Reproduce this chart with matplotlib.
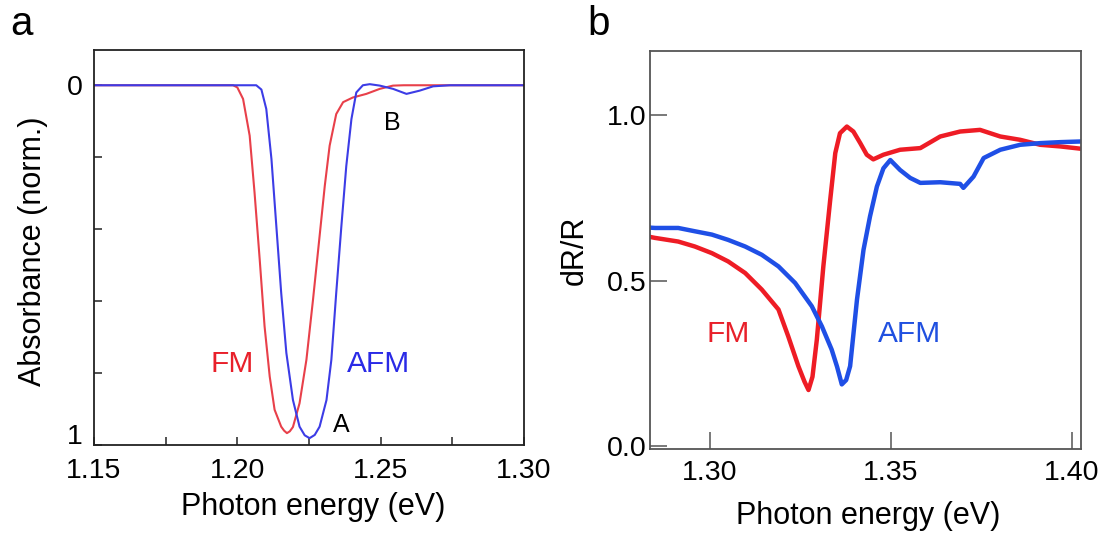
import matplotlib
matplotlib.use('Agg')
import matplotlib.pyplot as plt
from matplotlib.transforms import ScaledTranslation

plt.rcParams['font.family'] = ['Liberation Sans', 'DejaVu Sans']
TICK_SIZE = 20.5
LABEL_SIZE = 22

# (a) normalised absorbance, A exciton
abs_fm_e = [1.150, 1.1985, 1.2000, 1.2020, 1.2043, 1.2060, 1.2078, 1.2095, 1.2113, 1.2130,
            1.2153, 1.2163, 1.2173, 1.2183, 1.2194, 1.2217, 1.2241, 1.2264, 1.2287, 1.2305,
            1.2322, 1.2345, 1.2369, 1.2403, 1.2450, 1.2497, 1.2543, 1.2580, 1.300]
abs_fm = [0, 0, 0.006, 0.038, 0.140, 0.298, 0.484, 0.670, 0.810, 0.902,
          0.949, 0.960, 0.967, 0.962, 0.950, 0.884, 0.763, 0.596, 0.419, 0.280,
          0.168, 0.080, 0.047, 0.034, 0.024, 0.010, 0.001, 0, 0]
abs_afm_e = [1.150, 1.2066, 1.2084, 1.2101, 1.2119, 1.2136, 1.2153, 1.2171, 1.2194, 1.2217,
             1.2235, 1.2252, 1.2270, 1.2287, 1.2311, 1.2328, 1.2345, 1.2363, 1.2380, 1.2398,
             1.2415, 1.2438, 1.2462, 1.2497, 1.2543, 1.2590, 1.2636, 1.2683, 1.2741, 1.300]
abs_afm = [0, 0, 0.012, 0.066, 0.205, 0.391, 0.577, 0.744, 0.875, 0.949,
           0.973, 0.981, 0.972, 0.949, 0.875, 0.763, 0.577, 0.391, 0.225, 0.094,
           0.020, 0.0, -0.003, 0.001, 0.010, 0.024, 0.015, 0.003, 0, 0]

# (b) differential reflectance
dr_fm_e = [1.2835, 1.2849, 1.2913, 1.2959, 1.3006, 1.3051, 1.3098, 1.3144, 1.3190, 1.3217,
           1.3245, 1.3262, 1.3273, 1.3284, 1.3296, 1.3314, 1.3333, 1.3347, 1.3360, 1.3379,
           1.3397, 1.3416, 1.3434, 1.3452, 1.3480, 1.3526, 1.3582, 1.3637, 1.3692, 1.3747,
           1.3803, 1.3858, 1.3913, 1.3969, 1.4026]
dr_fm = [0.632, 0.629, 0.618, 0.603, 0.583, 0.558, 0.523, 0.473, 0.413, 0.332,
         0.242, 0.195, 0.170, 0.210, 0.322, 0.543, 0.744, 0.885, 0.945, 0.965,
         0.950, 0.915, 0.880, 0.866, 0.880, 0.895, 0.900, 0.935, 0.950, 0.955,
         0.935, 0.925, 0.910, 0.905, 0.898]
dr_afm_e = [1.2835, 1.2849, 1.2913, 1.2959, 1.3006, 1.3051, 1.3098, 1.3144, 1.3190, 1.3236,
            1.3282, 1.3310, 1.3337, 1.3352, 1.3365, 1.3377, 1.3388, 1.3407, 1.3425, 1.3443,
            1.3462, 1.3480, 1.3499, 1.3526, 1.3554, 1.3582, 1.3637, 1.3692, 1.3701, 1.3729,
            1.3757, 1.3803, 1.3858, 1.3913, 1.3969, 1.4026]
dr_afm = [0.660, 0.659, 0.659, 0.649, 0.639, 0.623, 0.603, 0.578, 0.543, 0.493,
          0.423, 0.362, 0.292, 0.240, 0.187, 0.200, 0.242, 0.443, 0.593, 0.694,
          0.784, 0.839, 0.864, 0.834, 0.810, 0.795, 0.797, 0.792, 0.780, 0.814,
          0.870, 0.895, 0.910, 0.915, 0.918, 0.920]

fig = plt.figure(figsize=(11.07, 5.35), dpi=100)

# ---- panel a ----
ax = fig.add_axes([94 / 1107, 1 - 445 / 535, (524 - 94) / 1107, (445 - 50) / 535])
ax.plot(abs_fm_e, abs_fm, color='#e8404a', lw=1.5)
ax.plot(abs_afm_e, abs_afm, color='#3c3ce6', lw=1.5)
ax.set_xlim(1.15, 1.30)
ax.set_ylim(1.0, -0.098)
ax.set_xticks([1.15, 1.20, 1.25, 1.30])
ax.set_xticks([1.175, 1.225, 1.275], minor=True)
ax.set_yticks([0, 0.2, 0.4, 0.6, 0.8, 1.0])
ax.set_yticklabels(['0', '', '', '', '', '1'])
ax.tick_params(which='both', direction='in', length=5.5, width=1.1, labelsize=TICK_SIZE,
               color='#222222')
ax.tick_params(axis='x', which='both', pad=9)
ax.tick_params(axis='y', pad=8)
# the "1" label sits a little above its tick
lab = ax.get_yticklabels()[-1]
lab.set_transform(lab.get_transform() + ScaledTranslation(0, 8 / 72, fig.dpi_scale_trans))
for s in ax.spines.values():
    s.set_linewidth(1.3)
    s.set_color('#222222')
ax.set_xlabel('Photon energy (eV)', fontsize=LABEL_SIZE)
ax.set_ylabel('Absorbance (norm.)', fontsize=LABEL_SIZE)
ax.xaxis.set_label_coords(0.51, -0.12)
ax.yaxis.set_label_coords(-0.108, 0.49)
ax.text(1.1982, 0.774, 'FM', color='#e8202a', fontsize=21.5, ha='center', va='center')
ax.text(1.2493, 0.774, 'AFM', color='#2a2ae6', fontsize=21.5, ha='center', va='center')
ax.text(1.2364, 0.944, 'A', fontsize=18, ha='center', va='center')
ax.text(1.2541, 0.105, 'B', fontsize=18, ha='center', va='center')

# ---- panel b ----
bx = fig.add_axes([650 / 1107, 1 - 449 / 535, (1081 - 650) / 1107, (449 - 51) / 535])
bx.plot(dr_fm_e, dr_fm, color='#ee1c25', lw=3.2)
bx.plot(dr_afm_e, dr_afm, color='#1f4fe6', lw=3.2)
bx.set_xlim(1.2835, 1.4026)
bx.set_ylim(-0.008, 1.193)
bx.set_xticks([1.30, 1.35, 1.40])
bx.set_xticklabels(['1.30', '1.35', '1.40'])
bx.set_yticks([0.0, 0.5, 1.0])
bx.set_yticklabels(['0.0', '0.5', '1.0'])
bx.tick_params(direction='in', length=12, width=1.1, labelsize=TICK_SIZE, color='#555555')
bx.tick_params(axis='x', pad=8)
bx.tick_params(axis='y', pad=2.5)
for s in bx.spines.values():
    s.set_linewidth(1.3)
    s.set_color('#555555')
bx.set_xlabel('Photon energy (eV)', fontsize=LABEL_SIZE)
bx.set_ylabel('dR/R', fontsize=LABEL_SIZE)
bx.xaxis.set_label_coords(0.506, -0.13)
bx.yaxis.set_label_coords(-0.14, 0.50)
bx.text(1.3052, 0.340, 'FM', color='#e8202a', fontsize=21.5, ha='center', va='center')
bx.text(1.3553, 0.340, 'AFM', color='#2050e0', fontsize=21.5, ha='center', va='center')

fig.text(10 / 1107, 1 - 35 / 535, 'a', fontsize=29, va='baseline')
fig.text(587 / 1107, 1 - 35 / 535, 'b', fontsize=29, va='baseline')

fig.savefig('out.png', dpi=100)
